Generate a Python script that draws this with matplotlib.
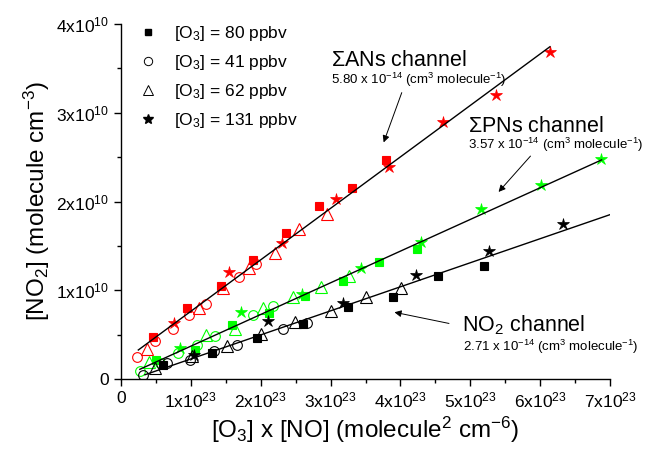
import numpy as np
import matplotlib
matplotlib.use("Agg")
import matplotlib.pyplot as plt
from matplotlib.lines import Line2D
from matplotlib.ticker import FixedLocator, MultipleLocator, FuncFormatter

plt.rcParams['font.family'] = ['Liberation Sans', 'DejaVu Sans']
plt.rcParams['mathtext.fontset'] = 'custom'
plt.rcParams['mathtext.rm'] = 'Liberation Sans'
plt.rcParams['mathtext.it'] = 'Liberation Sans'
plt.rcParams['mathtext.default'] = 'regular'

# ---------------- data (x in 1e23 molecule^2 cm^-6, y in 1e10 molecule cm^-3) ---------------
# Sigma ANs channel (red)
an_sq_x = [0.453, 0.947, 1.428, 1.893, 2.361, 2.838, 3.309, 3.791]
an_sq_y = [0.470, 0.804, 1.049, 1.342, 1.643, 1.950, 2.156, 2.465]
an_ci_x = [0.233, 0.486, 0.740, 0.973, 1.212, 1.688, 1.931]
an_ci_y = [0.245, 0.432, 0.560, 0.722, 0.846, 1.147, 1.296]
an_tr_x = [0.368, 1.116, 1.455, 1.836, 2.203, 2.551, 2.943]
an_tr_y = [0.335, 0.797, 1.023, 1.248, 1.424, 1.688, 1.860]
an_st_x = [0.758, 1.545, 2.308, 3.076, 3.841, 4.611, 5.375, 6.147]
an_st_y = [0.635, 1.210, 1.537, 2.024, 2.393, 2.892, 3.202, 3.683]

# Sigma PNs channel (green)
pn_sq_x = [0.501, 1.059, 1.588, 2.120, 2.639, 3.176, 3.693, 4.235]
pn_sq_y = [0.214, 0.327, 0.609, 0.741, 0.934, 1.108, 1.322, 1.462]
pn_ci_x = [0.276, 0.558, 0.815, 1.083, 1.345, 1.893, 2.170]
pn_ci_y = [0.088, 0.177, 0.293, 0.387, 0.485, 0.716, 0.820]
pn_tr_x = [0.401, 1.223, 1.631, 2.036, 2.458, 2.861, 3.269]
pn_tr_y = [0.186, 0.496, 0.558, 0.797, 0.922, 1.037, 1.163]
pn_st_x = [0.851, 1.717, 2.585, 3.433, 4.295, 5.160, 6.019, 6.877]
pn_st_y = [0.344, 0.750, 0.962, 1.255, 1.548, 1.913, 2.187, 2.477]

# NO2 channel (black)
no_sq_x = [0.605, 1.298, 1.953, 2.604, 3.252, 3.891, 4.539, 5.193]
no_sq_y = [0.158, 0.297, 0.459, 0.623, 0.808, 0.928, 1.161, 1.277]
no_ci_x = [0.319, 0.665, 0.991, 1.328, 1.659, 2.322, 2.657]
no_ci_y = [0.045, 0.177, 0.211, 0.312, 0.380, 0.560, 0.631]
no_tr_x = [0.486, 1.016, 1.512, 2.007, 2.494, 3.009, 3.505, 4.001]
no_tr_y = [0.121, 0.259, 0.372, 0.507, 0.646, 0.767, 0.928, 1.030]
no_st_x = [1.052, 2.108, 3.171, 4.220, 5.269, 6.327]
no_st_y = [0.276, 0.652, 0.853, 1.176, 1.445, 1.743]

# linear fits: slope (cm^3 molecule^-1), intercept (1e10), x range (1e23)
fit_slopes = [5.80e-14, 3.57e-14, 2.71e-14]
fit_intercepts = [0.183, 0.013, -0.045]
fit_xstart = [0.248, 0.27, 0.343]
fit_xend = [6.14, 6.88, 7.0]

legend_labels = ['[O$_3$] = 80 ppbv', '[O$_3$] = 41 ppbv', '[O$_3$] = 62 ppbv', '[O$_3$] = 131 ppbv']
x_ticks = [0, 1, 2, 3, 4, 5, 6, 7]
y_ticks = [0, 1, 2, 3, 4]

XS, YS = 1e23, 1e10

fig = plt.figure(figsize=(6.48, 4.49), dpi=100)
ax = fig.add_axes([0.1867, 0.1559, 0.7547, 0.7906])

def plot_set(sq, ci, tr, st, color):
    ax.plot(np.array(sq[0]) * XS, np.array(sq[1]) * YS, ls='none', marker='s', ms=6,
            mfc=color, mec=color, mew=0.8)
    ax.plot(np.array(ci[0]) * XS, np.array(ci[1]) * YS, ls='none', marker='o', ms=7,
            mfc='none', mec=color, mew=0.8)
    ax.plot(np.array(tr[0]) * XS, np.array(tr[1]) * YS, ls='none', marker='^', ms=8,
            mfc='none', mec=color, mew=0.8)
    ax.plot(np.array(st[0]) * XS, np.array(st[1]) * YS, ls='none', marker='*', ms=9,
            mfc=color, mec=color, mew=0.5)

plot_set((an_sq_x, an_sq_y), (an_ci_x, an_ci_y), (an_tr_x, an_tr_y), (an_st_x, an_st_y), '#ff0000')
plot_set((pn_sq_x, pn_sq_y), (pn_ci_x, pn_ci_y), (pn_tr_x, pn_tr_y), (pn_st_x, pn_st_y), '#00ff00')
plot_set((no_sq_x, no_sq_y), (no_ci_x, no_ci_y), (no_tr_x, no_tr_y), (no_st_x, no_st_y), 'black')

for s, b, x0, x1 in zip(fit_slopes, fit_intercepts, fit_xstart, fit_xend):
    xx = np.array([x0, x1]) * XS
    ax.plot(xx, s * xx + b * YS, color='black', lw=1.0)

ax.set_xlim(0, 7e23)
ax.set_ylim(0, 4e10)
for sp in ['top', 'right']:
    ax.spines[sp].set_visible(False)
for sp in ['left', 'bottom']:
    ax.spines[sp].set_linewidth(1.0)

def fmt_x(v, pos):
    n = int(round(v / XS))
    return '0' if n == 0 else r'$%dx10^{23}$' % n

def fmt_y(v, pos):
    n = int(round(v / YS))
    return '0' if n == 0 else r'$%dx10^{10}$' % n

ax.xaxis.set_major_locator(FixedLocator([t * XS for t in x_ticks]))
ax.yaxis.set_major_locator(FixedLocator([t * YS for t in y_ticks]))
ax.xaxis.set_minor_locator(MultipleLocator(0.5 * XS))
ax.yaxis.set_minor_locator(MultipleLocator(0.5 * YS))
ax.xaxis.set_major_formatter(FuncFormatter(fmt_x))
ax.yaxis.set_major_formatter(FuncFormatter(fmt_y))
ax.tick_params(which='major', direction='out', length=5, width=1, labelsize=12.5)
ax.tick_params(which='minor', direction='out', length=3, width=1)

ax.set_xlabel(r'[O$_3$] x [NO] (molecule$^2$ cm$^{-6}$)', fontsize=17.5, labelpad=3)
ax.set_ylabel(r'[NO$_2$] (molecule cm$^{-3}$)', fontsize=17.5, labelpad=3)

handles = [
    Line2D([], [], ls='none', marker='s', ms=5, mfc='black', mec='black'),
    Line2D([], [], ls='none', marker='o', ms=6, mfc='none', mec='black', mew=0.7),
    Line2D([], [], ls='none', marker='^', ms=6.5, mfc='none', mec='black', mew=0.7),
    Line2D([], [], ls='none', marker='*', ms=7, mfc='black', mec='black'),
]
leg = ax.legend(handles, legend_labels, loc='upper left', bbox_to_anchor=(0.005, 1.045),
                frameon=False, fontsize=12.5, handlelength=1.0, handletextpad=1.0,
                labelspacing=0.58)

# annotations (figure pixel positions converted to axes fraction)
def ax_frac(px, py):
    return ((px - 121) / (610 - 121), (379 - py) / (379 - 24))

ax.text(*ax_frac(331, 66), r'$\Sigma$ANs channel', transform=ax.transAxes, fontsize=15.5)
ax.text(*ax_frac(331, 84), r'5.80 x 10$^{-14}$ (cm$^3$ molecule$^{-1}$)', transform=ax.transAxes, fontsize=9.5)
ax.annotate('', xy=ax_frac(382.7, 145), xycoords='axes fraction', xytext=ax_frac(402.7, 90),
            textcoords='axes fraction',
            arrowprops=dict(arrowstyle='-|>', color='black', lw=0.7, mutation_scale=10))

ax.text(*ax_frac(468, 132), r'$\Sigma$PNs channel', transform=ax.transAxes, fontsize=15.5)
ax.text(*ax_frac(468, 149), r'3.57 x 10$^{-14}$ (cm$^3$ molecule$^{-1}$)', transform=ax.transAxes, fontsize=9.5)
ax.annotate('', xy=ax_frac(496.7, 194), xycoords='axes fraction', xytext=ax_frac(532.3, 154),
            textcoords='axes fraction',
            arrowprops=dict(arrowstyle='-|>', color='black', lw=0.7, mutation_scale=10))

ax.text(*ax_frac(462, 331), r'NO$_2$ channel', transform=ax.transAxes, fontsize=15.5)
ax.text(*ax_frac(463, 351), r'2.71 x 10$^{-14}$ (cm$^3$ molecule$^{-1}$)', transform=ax.transAxes, fontsize=9.5)
ax.annotate('', xy=ax_frac(391.7, 311.7), xycoords='axes fraction', xytext=ax_frac(451.7, 324),
            textcoords='axes fraction',
            arrowprops=dict(arrowstyle='-|>', color='black', lw=0.7, mutation_scale=10))

fig.savefig('out.png', dpi=100)
